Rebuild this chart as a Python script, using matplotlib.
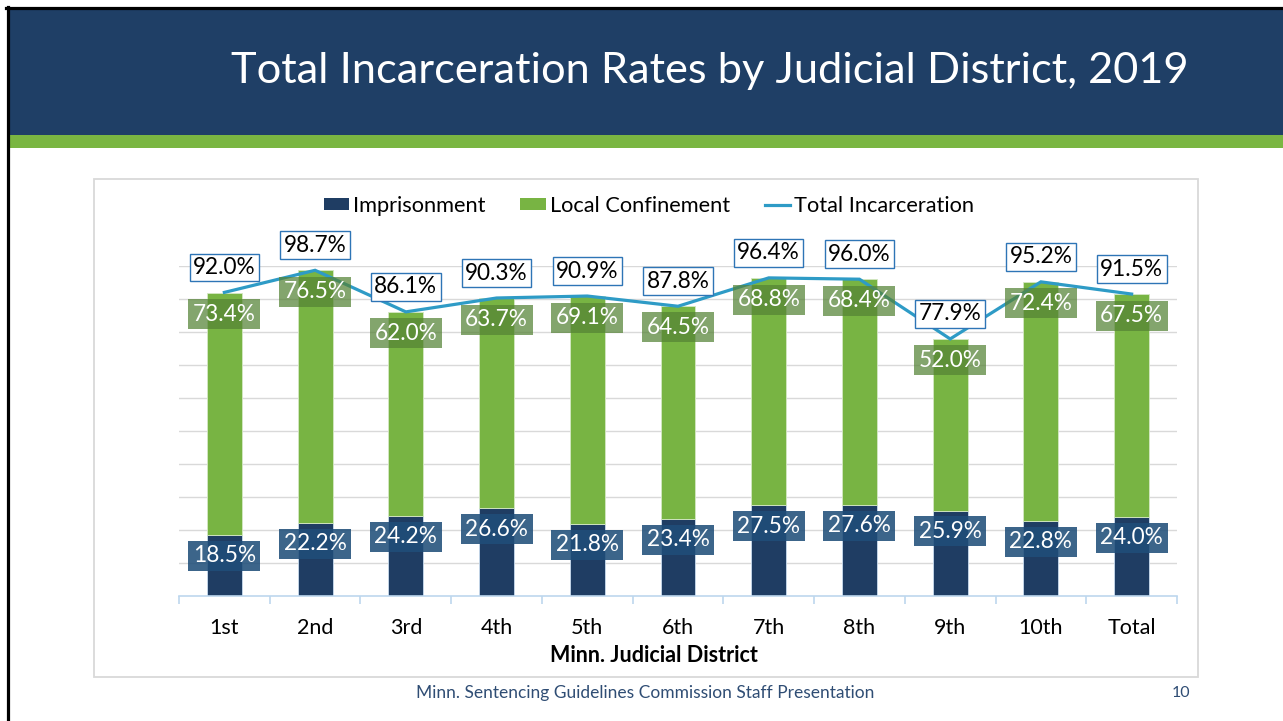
import matplotlib
matplotlib.use('Agg')
import matplotlib.pyplot as plt
from matplotlib.patches import Rectangle, Patch
from matplotlib.lines import Line2D
import numpy as np

# ---- data ----
districts = ['1st', '2nd', '3rd', '4th', '5th', '6th', '7th', '8th', '9th', '10th', 'Total']
imprisonment = [18.5, 22.2, 24.2, 26.6, 21.8, 23.4, 27.5, 27.6, 25.9, 22.8, 24.0]
local_confinement = [73.4, 76.5, 62.0, 63.7, 69.1, 64.5, 68.8, 68.4, 52.0, 72.4, 67.5]
total_incarceration = [92.0, 98.7, 86.1, 90.3, 90.9, 87.8, 96.4, 96.0, 77.9, 95.2, 91.5]
series_names = ['Imprisonment', 'Local Confinement', 'Total Incarceration']
title = 'Total Incarceration Rates by Judicial District, 2019'
x_title = 'Minn. Judicial District'
footer = 'Minn. Sentencing Guidelines Commission Staff Presentation'
page_no = '10'

plt.rcParams['font.family'] = ['Lato', 'DejaVu Sans']

W, H = 1283, 721
fig = plt.figure(figsize=(W / 100, H / 100), dpi=100)
fig.patch.set_facecolor('white')

def fx(x):
    return x / W

def fy(y):
    return 1 - y / H

# header band and green stripe
fig.patches.append(Rectangle((fx(9), fy(135)), 1 - fx(9), 126 / H, transform=fig.transFigure,
                             facecolor='#1f3f66', edgecolor='none', zorder=0))
fig.patches.append(Rectangle((fx(9), fy(148)), 1 - fx(9), 13 / H, transform=fig.transFigure,
                             facecolor='#7ab642', edgecolor='none', zorder=0))
# black slide border (top & left)
fig.lines.append(Line2D([fx(7.5), fx(7.5)], [fy(7), 0], transform=fig.transFigure, color='black', lw=2.3))
fig.lines.append(Line2D([fx(6), 1], [fy(8), fy(8)], transform=fig.transFigure, color='black', lw=2.3))
# chart frame
fig.patches.append(Rectangle((fx(94), fy(677)), 1104 / W, 498 / H, transform=fig.transFigure,
                             facecolor='none', edgecolor='#d9d9d9', lw=1.3, zorder=1))

fig.text(fx(710), fy(71), title, color='white', fontsize=31.2,
         ha='center', va='center')

# ---- axes ----
ax = fig.add_axes([fx(179), fy(596), 998 / W, 330 / H])
ax.set_facecolor('none')
x = np.arange(len(districts))
bar_w = 0.385
c_imp = '#1f3d63'
c_loc = '#78b443'
c_tot = '#2e9bc6'

ax.bar(x, imprisonment, width=bar_w, color=c_imp, edgecolor='#c9dcef', linewidth=0.6, zorder=2)
ax.bar(x, local_confinement, width=bar_w, bottom=imprisonment, color=c_loc,
       edgecolor='#d5e8c4', linewidth=0.6, zorder=2)
ax.plot(x, total_incarceration, color=c_tot, lw=2.3, zorder=4, solid_joinstyle='miter')

ax.set_xlim(-0.5, len(districts) - 0.5)
ax.set_ylim(0, 100)
ax.set_yticks(np.arange(10, 101, 10))
ax.yaxis.grid(True, color='#d9d9d9', lw=1)
ax.set_axisbelow(True)
ax.tick_params(axis='y', length=0, labelleft=False)
for s in ['top', 'right', 'left']:
    ax.spines[s].set_visible(False)
ax.spines['bottom'].set_color('#bdd7ee')
ax.spines['bottom'].set_linewidth(1.2)
ax.set_xticks(x)
ax.set_xticklabels(districts, fontsize=15.5, color='black')
ax.set_xticks(np.arange(-0.5, len(districts), 1), minor=True)
ax.tick_params(axis='x', which='major', length=0, pad=16)
ax.tick_params(axis='x', which='minor', length=6, width=1.2, color='#bdd7ee', direction='out')

lab_fs = 16.3
for i in range(len(districts)):
    ax.annotate(f'{imprisonment[i]:.1f}%', xy=(i, imprisonment[i]), xytext=(0, -15),
                textcoords='offset points', ha='center', va='center', color='white', fontsize=lab_fs,
                bbox=dict(boxstyle='square,pad=0.2', fc='#1f4e79', ec='none', alpha=0.87), zorder=5)
    top = imprisonment[i] + local_confinement[i]
    ax.annotate(f'{local_confinement[i]:.1f}%', xy=(i, top), xytext=(0, -15.5),
                textcoords='offset points', ha='center', va='center', color='white', fontsize=lab_fs,
                bbox=dict(boxstyle='square,pad=0.2', fc='#548235', ec='none', alpha=0.72), zorder=5)
    ax.annotate(f'{total_incarceration[i]:.1f}%', xy=(i, total_incarceration[i]), xytext=(0, 18),
                textcoords='offset points', ha='center', va='center', color='black', fontsize=lab_fs,
                bbox=dict(boxstyle='square,pad=0.15', fc='white', ec='#2e75b6', lw=1), zorder=6,
                annotation_clip=False)

fig.text(fx(654), fy(656), x_title, fontsize=15.5, fontweight='bold', ha='center', va='center')

handles = [Patch(facecolor=c_imp), Patch(facecolor=c_loc), Line2D([0], [0], color=c_tot, lw=2.3)]
fig.legend(handles, series_names, loc='center', bbox_to_anchor=(fx(649), fy(206)), ncol=3,
           frameon=False, fontsize=15.7, handlelength=1.15, handleheight=0.45, handletextpad=0.2,
           columnspacing=1.6)

fig.text(fx(645), fy(693), footer, fontsize=12.5, color='#2f4d74', ha='center', va='center')
fig.text(fx(1181), fy(693), page_no, fontsize=11.5, color='#2f4d74', ha='center', va='center')

fig.savefig('out.png', dpi=100)
